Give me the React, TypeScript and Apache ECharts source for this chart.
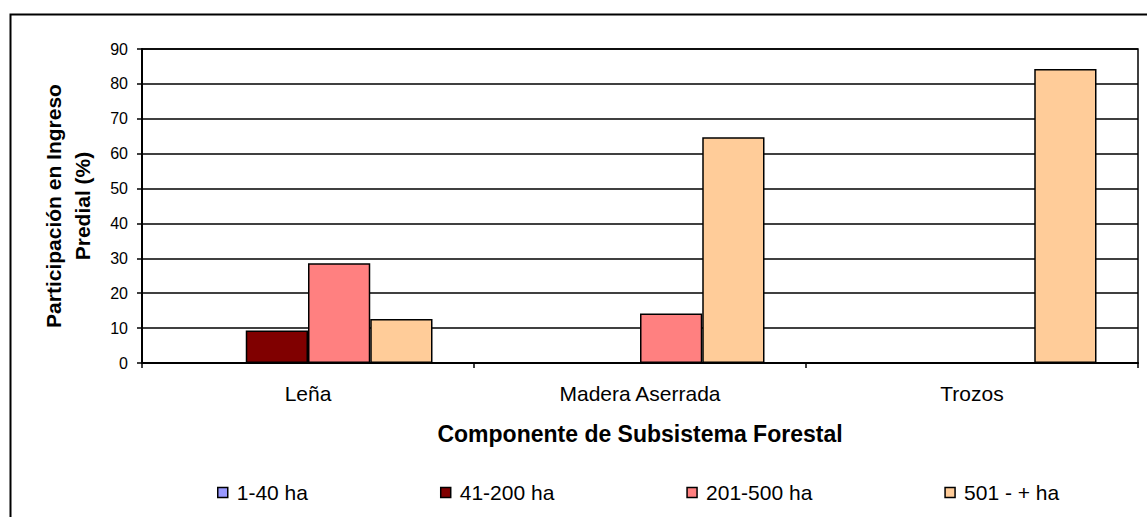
import React, { useEffect, useRef } from "react";
import * as echarts from "echarts";

const categories = ["Leña", "Madera Aserrada", "Trozos"];
const seriesNames = ["1-40 ha", "41-200 ha", "201-500 ha", "501 - + ha"];
const values1to40 = [0, 0, 0];
const values41to200 = [9.3, 0, 0];
const values201to500 = [28.6, 14.2, 0];
const values501plus = [12.6, 64.7, 84.3];
const seriesColors = ["#9999FF", "#800000", "#FF8080", "#FFCC99"];
const yMin = 0;
const yMax = 90;
const yInterval = 10;
const xTitle = "Componente de Subsistema Forestal";
const yTitle = "Participación en Ingreso\nPredial (%)";

const FONT = "'Liberation Sans', Arial, sans-serif";

export default function App() {
  const ref = useRef<HTMLDivElement>(null);
  useEffect(() => {
    if (!ref.current) return;
    const chart = echarts.init(ref.current, undefined, { renderer: "svg" });
    const allValues = [values1to40, values41to200, values201to500, values501plus];
    chart.setOption({
      animation: false,
      backgroundColor: "#ffffff",
      textStyle: { fontFamily: FONT, color: "#000" },
      graphic: [
        {
          type: "rect",
          left: 8,
          top: 12,
          shape: { x: 0, y: 0, width: 1200, height: 600 },
          style: { fill: "none", stroke: "#000", lineWidth: 2 },
          z: -10,
          silent: true,
        },
      ],
      grid: {
        left: 142,
        right: 9,
        top: 49,
        bottom: 154,
        show: true,
        borderColor: "#000",
        borderWidth: 1.5,
        backgroundColor: "transparent",
      },
      legend: {
        data: seriesNames,
        left: 212,
        top: 477,
        itemWidth: 10,
        itemHeight: 10,
        itemGap: 132,
        icon: "rect",
        itemStyle: { borderColor: "#000", borderWidth: 1.5 },
        textStyle: {
          fontFamily: FONT,
          fontSize: 21,
          color: "#000",
          padding: [0, 0, 0, 4],
          lineHeight: 21,
        },
      },
      xAxis: {
        type: "category",
        data: categories,
        boundaryGap: true,
        axisLine: { show: true, lineStyle: { color: "#000", width: 2 } },
        axisTick: { show: true, length: 5, lineStyle: { color: "#000", width: 1.5 } },
        axisLabel: { fontFamily: FONT, fontSize: 21, color: "#000", margin: 20 },
        splitLine: { show: false },
        name: xTitle,
        nameLocation: "middle",
        nameGap: 59,
        nameTextStyle: { fontFamily: FONT, fontSize: 23, fontWeight: "bold", color: "#000" },
      },
      yAxis: {
        type: "value",
        min: yMin,
        max: yMax,
        interval: yInterval,
        axisLine: { show: true, lineStyle: { color: "#000", width: 2 } },
        axisTick: { show: true, length: 5, lineStyle: { color: "#000", width: 1.5 } },
        axisLabel: { fontFamily: FONT, fontSize: 16, color: "#000", margin: 14 },
        splitLine: { show: true, lineStyle: { color: "#000", width: 1.5 } },
        name: yTitle,
        nameLocation: "middle",
        nameRotate: 90,
        nameGap: 45,
        nameTextStyle: {
          fontFamily: FONT,
          fontSize: 21,
          fontWeight: "bold",
          color: "#000",
          lineHeight: 29,
          align: "center",
        },
      },
      series: seriesNames.map((name, i) => ({
        name,
        type: "bar",
        data: allValues[i],
        barGap: "0%",
        barCategoryGap: "25%",
        itemStyle: { color: seriesColors[i], borderColor: "#000", borderWidth: 1.5 },
      })),
    });
    return () => chart.dispose();
  }, []);
  return (
    <div
      ref={ref}
      style={{ position: "absolute", left: 0, top: 0, width: 1147, height: 517 }}
    />
  );
}
